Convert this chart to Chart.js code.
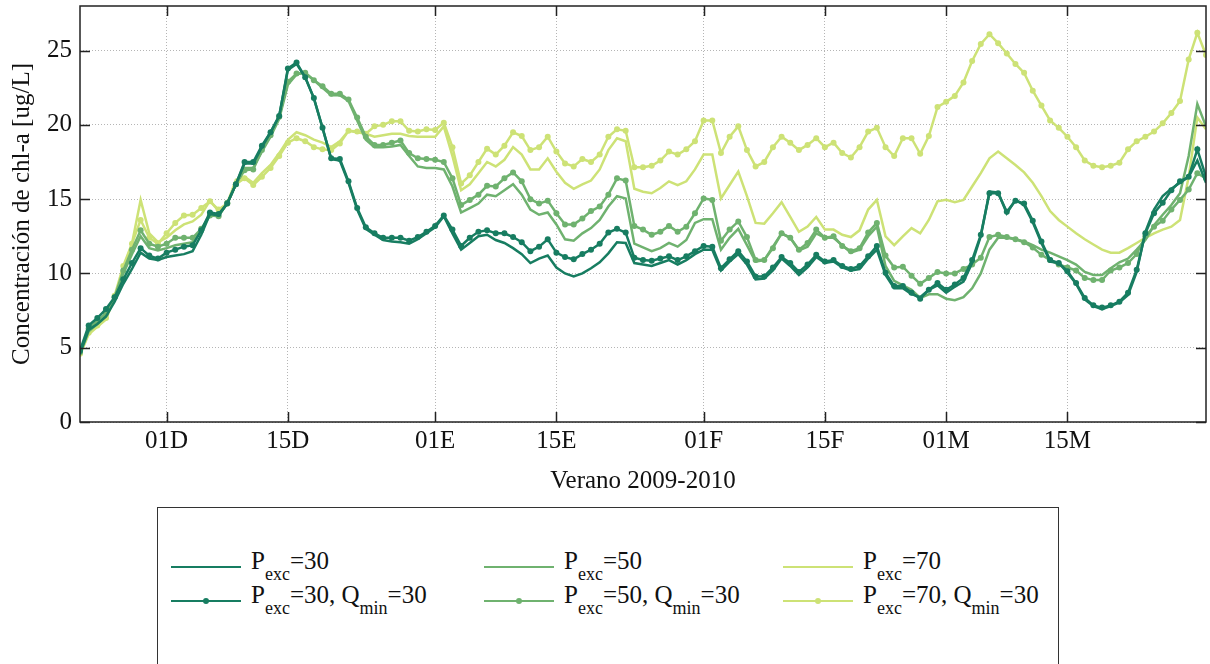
<!DOCTYPE html>
<html>
<head>
<meta charset="utf-8">
<script src="https://cdn.jsdelivr.net/npm/chart.js@4.4.1/dist/chart.umd.min.js"></script>
<style>
  html, body { margin: 0; padding: 0; background: #fff; overflow: hidden; }
  #wrap { position: relative; width: 1210px; height: 664px; }
  #chart { position: absolute; left: 0; top: 0; }
  #legend {
    position: absolute; left: 157px; top: 507px; width: 902px; height: 170px;
    border: 1px solid #333; box-sizing: border-box;
    font-family: 'Liberation Serif', 'Times New Roman', serif; font-size: 25px; color: #111;
  }
  .item { position: absolute; height: 28px; line-height: 28px; white-space: nowrap; }
  .swatch { position: absolute; top: 11px; width: 70px; height: 0; border-top: 2.5px solid; }
  .dot { position: absolute; left: 32px; top: -4.5px; width: 6px; height: 6px; border-radius: 50%; }
  .txt { position: absolute; left: 80px; top: -8px; }
  .txt sub { font-size: 18px; vertical-align: -11px; line-height: 0; }
</style>
</head>
<body>
<div id="wrap">
  <canvas id="chart" width="1210" height="500"></canvas>
  <div id="legend"></div>
</div>
<script>
// Verano 2009-2010: dia 0 = 21 nov 2009 ... dia 130 = 31 mar 2010
const tickDays = [10, 24, 41, 55, 72, 86, 100, 114];
const tickLabels = ['01D', '15D', '01E', '15E', '01F', '15F', '01M', '15M'];
const yTicks = [0, 5, 10, 15, 20, 25];

// Concentracion de chl-a [ug/L], un valor por dia
const p30 = [
  4.6, 6.2, 6.6, 7.1, 8.1, 9.3, 10.3, 11.4, 11.0, 10.9,
  11.1, 11.2, 11.3, 11.5, 12.6, 14.0, 13.9, 14.7, 16.0, 17.4,
  17.4, 18.5, 19.5, 20.6, 23.7, 24.1, 23.2, 21.8, 19.8, 17.7,
  17.6, 16.1, 14.3, 13.0, 12.6, 12.25, 12.15, 12.1, 12.0, 12.3,
  12.7, 13.1, 13.85, 12.7, 11.6, 12.05, 12.5, 12.6, 12.25, 12.05,
  11.7, 11.3, 10.7, 11.0, 11.2, 10.4, 10.0, 9.8, 10.0, 10.35,
  10.75, 11.35, 12.1, 12.05, 10.7, 10.6, 10.5, 10.7, 10.9, 10.6,
  10.9, 11.3, 11.6, 11.6, 10.2, 10.8, 11.3, 10.6, 9.6, 9.65,
  10.2, 11.0, 10.5, 9.9, 10.4, 11.1, 10.7, 10.8, 10.4, 10.2,
  10.3, 11.0, 11.6, 9.9, 9.0, 9.0, 8.6, 8.4, 8.9, 9.2,
  8.7, 9.1, 9.45, 10.7, 12.5, 15.5, 15.45, 14.05, 14.95, 14.6,
  13.45, 12.05, 10.8, 10.7, 10.05, 9.3, 8.25, 7.8, 7.6, 7.8,
  8.05, 8.55, 10.1, 12.8, 14.3, 15.2, 15.7, 16.1, 16.5, 17.6,
  16.1
];
const p30q = [
  4.8, 6.5, 7.0, 7.6, 8.4, 9.6, 10.7, 11.7, 11.2, 11.0,
  11.4, 11.6, 11.8, 11.9, 12.9, 14.1, 14.0, 14.7, 16.0, 17.5,
  17.5, 18.6, 19.5, 20.6, 23.8, 24.2, 23.2, 21.8, 19.8, 17.75,
  17.7, 16.2, 14.4, 13.1, 12.7, 12.4, 12.4, 12.4, 12.2, 12.45,
  12.8, 13.2, 13.9, 12.95, 11.85, 12.4, 12.8, 12.9, 12.7, 12.7,
  12.45, 12.1, 11.5, 11.8, 12.3, 11.4, 11.1, 10.95, 11.3, 11.6,
  12.0, 12.75, 13.0, 12.75, 11.05, 10.9, 10.85, 11.0, 11.15, 10.9,
  11.15, 11.5, 11.85, 11.8, 10.35, 10.95, 11.5, 10.8, 9.8, 9.8,
  10.4, 11.1, 10.7, 10.1, 10.6, 11.25, 10.8, 10.9, 10.5, 10.3,
  10.5, 11.15, 11.85, 10.05, 9.15, 9.15, 8.7, 8.3, 8.9, 9.35,
  8.9, 9.25, 9.7, 10.9, 12.6, 15.4, 15.4, 14.15, 14.9, 14.7,
  13.55, 12.15, 10.9, 10.7, 10.15, 9.35, 8.35, 7.85, 7.7, 7.85,
  8.1, 8.7, 10.25, 12.7, 14.05, 14.75, 15.6, 16.2, 16.5, 18.35,
  16.5
];
const p50 = [
  4.6, 6.1, 6.6, 7.1, 8.3, 10.0, 11.3, 12.5, 11.7, 11.55,
  11.7, 11.9, 12.0, 12.1, 12.9, 13.95, 13.9, 14.7, 16.0, 17.1,
  17.1, 18.2, 19.2, 20.4, 22.7, 23.4, 23.5, 23.0, 22.5, 22.0,
  22.0, 21.6, 20.3, 19.0, 18.5, 18.5, 18.55, 18.65, 17.9, 17.2,
  17.1, 17.1, 17.0, 15.85, 14.1, 14.4, 14.7, 15.3, 15.2, 15.6,
  16.0, 15.3, 14.3, 13.95, 14.1, 13.3, 12.3, 12.2, 12.7, 13.05,
  13.6, 14.5, 15.2, 15.05, 12.0, 11.75, 11.5, 11.7, 12.05, 11.8,
  12.25, 13.4, 13.65, 13.65, 11.6, 12.4, 13.0, 11.9, 10.8, 10.9,
  11.8, 12.7, 12.4, 11.55, 11.8, 12.7, 12.4, 12.4, 11.9, 11.4,
  11.6, 12.5, 13.15, 10.5, 9.5, 9.2, 8.9, 8.35, 8.6, 8.6,
  8.3, 8.2, 8.4, 9.0, 10.0, 11.6, 12.4, 12.4, 12.3, 12.15,
  11.9, 11.6, 11.4, 11.15, 10.9, 10.6, 10.1, 9.9, 9.9, 10.35,
  10.75, 11.0, 11.6, 12.25, 13.25, 13.95, 14.6, 15.4, 17.9, 21.4,
  19.9
];
const p50q = [
  4.7, 6.3, 6.8, 7.3, 8.4, 10.2, 11.6, 12.9, 12.0, 11.8,
  12.0, 12.4, 12.4, 12.4, 13.0, 13.9, 13.85, 14.75, 16.0, 16.95,
  17.0, 18.3, 19.3, 20.55, 22.9, 23.45, 23.5, 23.0, 22.6, 22.1,
  22.1, 21.7, 20.5, 19.2, 18.65, 18.65, 18.8, 18.95, 18.1, 17.75,
  17.7, 17.65, 17.5, 16.4, 14.6, 14.95, 15.3, 15.9, 15.85, 16.4,
  16.8, 16.2, 15.0, 14.7, 14.9, 14.05, 13.3, 13.3, 13.7, 14.2,
  14.5, 15.3, 16.4, 16.25, 13.2, 12.95, 12.6, 12.8, 13.2, 12.8,
  13.15, 14.05, 15.05, 14.95, 12.2, 12.95, 13.5, 12.45, 10.9, 10.9,
  11.7, 12.7, 12.4, 11.6, 12.05, 12.95, 12.4, 12.5, 11.85, 11.5,
  11.7, 12.75, 13.4, 11.2, 10.4, 10.45, 9.85, 9.3, 9.7, 10.1,
  10.0, 10.0, 10.3, 10.6, 11.05, 12.45, 12.6, 12.45, 12.3, 12.1,
  11.75, 11.25, 10.9, 10.6, 10.4, 10.2, 9.7, 9.55, 9.55, 10.2,
  10.4, 10.7, 11.3, 12.5, 13.15, 13.55, 14.3, 14.95, 15.65, 16.75,
  16.4
];
const p70 = [
  4.5, 5.9, 6.4, 6.9, 8.4, 10.3, 12.0, 14.95, 12.7, 12.1,
  12.4, 12.9, 13.3, 13.5, 13.95, 14.9, 14.2, 14.7, 16.3, 16.5,
  16.1, 16.75, 17.3, 18.1, 19.0, 19.5, 19.3, 19.0, 18.8, 18.5,
  18.9, 19.6, 19.5, 19.4, 19.2, 19.3, 19.4, 19.4, 19.25, 19.2,
  19.2, 19.2, 19.9, 17.9, 15.6, 16.0, 16.75, 17.5, 17.2, 17.65,
  18.5, 18.0, 17.0, 17.0, 17.75, 16.85, 16.1, 15.7, 16.0, 16.25,
  17.0, 18.3, 19.1, 18.9, 15.7, 15.5, 15.4, 15.75, 16.2, 15.95,
  16.2, 17.0, 18.0, 18.0, 15.05, 15.95, 16.85, 15.2, 13.4, 13.35,
  14.05, 14.8, 13.8, 12.8, 13.15, 13.8, 12.95, 12.95, 12.6, 12.45,
  12.9, 14.3, 14.95, 12.5, 11.9, 12.5, 13.05, 12.7, 13.6, 14.85,
  14.95, 14.8, 14.95, 15.85, 16.75, 17.75, 18.2, 17.75, 17.3, 16.8,
  16.1, 15.2, 14.2, 13.6, 13.15, 12.7, 12.3, 11.95, 11.6, 11.4,
  11.4, 11.7, 12.05, 12.4, 12.7, 12.95, 13.15, 13.6, 16.5, 20.5,
  19.7
];
const p70q = [
  4.6, 6.0, 6.5, 7.0, 8.5, 10.5, 12.0, 13.6, 12.4, 12.0,
  12.7, 13.4, 13.9, 13.95, 14.4, 14.85, 14.3, 14.7, 16.0, 16.4,
  15.95, 16.5, 17.1, 17.9, 18.8, 19.1, 18.9, 18.5, 18.35, 18.3,
  18.75, 19.6, 19.55, 19.4, 19.9, 20.0, 20.25, 20.25, 19.6, 19.55,
  19.7, 19.65, 20.15, 18.5, 16.05, 16.6, 17.5, 18.4, 18.0, 18.6,
  19.5, 19.25, 18.3, 18.5, 19.2, 18.2, 17.4, 17.2, 17.7, 17.5,
  18.0, 19.2, 19.7, 19.6, 17.15, 17.15, 17.25, 17.6, 18.2, 18.0,
  18.35, 18.9, 20.3, 20.3, 18.1, 19.2, 19.9, 18.3, 17.2, 17.5,
  18.5, 19.2, 18.8, 18.3, 18.65, 19.1, 18.5, 18.8, 18.1, 17.8,
  18.5, 19.55, 19.8, 18.5, 17.9, 19.1, 19.1, 18.05, 19.25, 21.2,
  21.55, 21.95, 22.85, 24.3, 25.45, 26.1, 25.5, 24.8, 24.1, 23.5,
  22.3, 21.3, 20.3, 19.8, 19.2, 18.5, 17.6, 17.25, 17.15, 17.25,
  17.45, 18.35, 18.9, 19.2, 19.55, 20.1, 20.8, 21.6, 24.4, 26.2,
  24.7
];

const colors = { c30: '#177d61', c50: '#6fb26f', c70: '#cde276' };
const FONT = "'Liberation Serif', 'Times New Roman', serif";

function toXY(values) {
  return values.map((v, i) => ({ x: i, y: v }));
}

function series(label, values, color, markers) {
  return {
    label: label,
    data: toXY(values),
    borderColor: color,
    backgroundColor: color,
    borderWidth: 2.5,
    pointRadius: markers ? 3 : 0,
    pointBorderWidth: 0,
    pointBackgroundColor: color,
    tension: 0,
    fill: false
  };
}

// sin relleno extra alrededor de los ejes
function noPad(scale) {
  scale.paddingTop = 0;
  scale.paddingBottom = 0;
  scale.paddingLeft = 0;
  scale.paddingRight = 0;
}

// marco negro y marcas de division hacia dentro (estilo MATLAB)
const framePlugin = {
  id: 'frame',
  afterDatasetsDraw(chart) {
    const { ctx, chartArea: a, scales } = chart;
    ctx.save();
    ctx.strokeStyle = '#222';
    ctx.lineWidth = 1.5;
    ctx.strokeRect(a.left, a.top, a.right - a.left, a.bottom - a.top);
    ctx.beginPath();
    tickDays.forEach(d => {
      const x = Math.round(scales.x.getPixelForValue(d)) + 0.5;
      ctx.moveTo(x, a.bottom); ctx.lineTo(x, a.bottom - 10);
      ctx.moveTo(x, a.top); ctx.lineTo(x, a.top + 10);
    });
    yTicks.forEach(v => {
      const y = Math.round(scales.y.getPixelForValue(v)) + 0.5;
      ctx.moveTo(a.left, y); ctx.lineTo(a.left + 10, y);
      ctx.moveTo(a.right, y); ctx.lineTo(a.right - 10, y);
    });
    ctx.stroke();
    ctx.restore();
  }
};

new Chart(document.getElementById('chart'), {
  type: 'line',
  data: {
    datasets: [
      series('Pexc=30', p30, colors.c30, false),
      series('Pexc=30, Qmin=30', p30q, colors.c30, true),
      series('Pexc=50', p50, colors.c50, false),
      series('Pexc=50, Qmin=30', p50q, colors.c50, true),
      series('Pexc=70', p70, colors.c70, false),
      series('Pexc=70, Qmin=30', p70q, colors.c70, true)
    ]
  },
  options: {
    responsive: false,
    animation: false,
    layout: { padding: { top: 6, right: 1, left: 0, bottom: 0 } },
    plugins: { legend: { display: false }, tooltip: { enabled: false } },
    scales: {
      x: {
        type: 'linear',
        min: 0,
        max: 130,
        afterBuildTicks: scale => { scale.ticks = tickDays.map(v => ({ value: v })); },
        afterFit: scale => { scale.height = 78; noPad(scale); },
        ticks: {
          color: '#111',
          font: { family: FONT, size: 25 },
          padding: 4,
          maxRotation: 0,
          callback: v => tickLabels[tickDays.indexOf(v)]
        },
        grid: { color: '#b5b5b5', lineWidth: 1, drawTicks: false },
        border: { display: false, dash: [1, 2] },
        title: {
          display: true,
          text: 'Verano 2009-2010',
          color: '#111',
          font: { family: FONT, size: 25 },
          padding: { top: 4 }
        }
      },
      y: {
        min: 0,
        max: 28,
        afterBuildTicks: scale => { scale.ticks = yTicks.map(v => ({ value: v })); },
        afterFit: scale => { scale.width = 80; noPad(scale); },
        ticks: {
          color: '#111',
          font: { family: FONT, size: 25 },
          padding: 8
        },
        grid: { color: '#b5b5b5', lineWidth: 1, drawTicks: false },
        border: { display: false, dash: [1, 2] },
        title: {
          display: true,
          text: 'Concentración de chl-a [ug/L]',
          color: '#111',
          font: { family: FONT, size: 25 },
          padding: { top: 7, bottom: 0 }
        }
      }
    }
  },
  plugins: [framePlugin]
});

// leyenda con subindices
const legendItems = [
  { col: 0, row: 0, color: colors.c30, dot: false, html: 'P<sub>exc</sub>=30' },
  { col: 0, row: 1, color: colors.c30, dot: true, html: 'P<sub>exc</sub>=30, Q<sub>min</sub>=30' },
  { col: 1, row: 0, color: colors.c50, dot: false, html: 'P<sub>exc</sub>=50' },
  { col: 1, row: 1, color: colors.c50, dot: true, html: 'P<sub>exc</sub>=50, Q<sub>min</sub>=30' },
  { col: 2, row: 0, color: colors.c70, dot: false, html: 'P<sub>exc</sub>=70' },
  { col: 2, row: 1, color: colors.c70, dot: true, html: 'P<sub>exc</sub>=70, Q<sub>min</sub>=30' }
];
const colLeft = [13, 326, 625];
const rowTop = [47, 81];
const legend = document.getElementById('legend');
legendItems.forEach(it => {
  const el = document.createElement('div');
  el.className = 'item';
  el.style.left = colLeft[it.col] + 'px';
  el.style.top = rowTop[it.row] + 'px';
  el.innerHTML = '<div class="swatch" style="border-color:' + it.color + '">' +
    (it.dot ? '<div class="dot" style="background:' + it.color + '"></div>' : '') +
    '</div><div class="txt">' + it.html + '</div>';
  legend.appendChild(el);
});
</script>
</body>
</html>
